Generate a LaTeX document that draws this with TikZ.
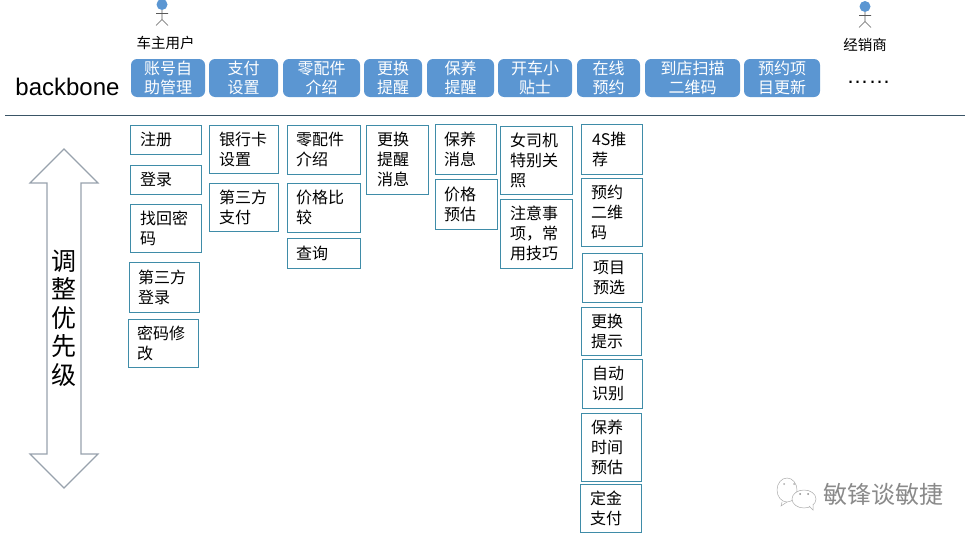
\documentclass[tikz,border=0pt]{standalone}
\usepackage{fontspec}
\setmainfont{Liberation Sans}
\newfontfamily\cjk{Noto Sans CJK SC}
\definecolor{hdr}{HTML}{5B96D2}
\definecolor{bord}{HTML}{3F8CA8}
\definecolor{arr}{HTML}{98A2AD}
\definecolor{rulec}{HTML}{3A5566}
\definecolor{wm}{HTML}{8A8A8A}
\tikzset{
  hdrbox/.style={fill=hdr,rounded corners=6pt,inner sep=0pt,text=white,align=center,font=\cjk\fontsize{16}{19}\selectfont},
  subbox/.style={draw=bord,line width=1pt,inner ysep=0pt,align=left,font=\cjk\fontsize{16}{20}\selectfont},
  actorhead/.style={fill=hdr,circle,inner sep=0pt,minimum size=11pt},
  actorline/.style={draw=black!65,line width=0.6pt},
  lab/.style={inner sep=0pt,font=\cjk\fontsize{14.5}{17}\selectfont},
  bubble/.style={draw=wm!70,line width=0.5pt,fill=white}
}
% name, x1,y1,x2,y2, text
\newcommand{\hb}[6]{\node[hdrbox,minimum width=#4pt-#2pt,minimum height=#5pt-#3pt] (#1) at ({(#2+#4)/2},{(#3+#5)/2}) {#6};}
\newcommand{\sbx}[7][10]{\node[subbox,inner xsep=#1pt,minimum width=#5pt-#3pt,minimum height=#6pt-#4pt,text width=#5pt-#3pt-2*#1pt] (#2) at ({(#3+#5)/2},{(#4+#6)/2}) {#7};}
\newcommand{\actor}[3]{%
  \node[actorhead] (#1) at (#2,#3) {};
  \coordinate (#1h) at (#2,#3+15);
  \coordinate (#1a) at (#2-6,#3+9);
  \coordinate (#1b) at (#2+6,#3+9);
  \coordinate (#1l) at (#2-6,#3+21);
  \coordinate (#1r) at (#2+6,#3+21);
  \draw[actorline] (#1) -- (#1h) (#1a) -- (#1b) (#1l) -- (#1h) -- (#1r);
}
\begin{document}
\begin{tikzpicture}[x=1pt,y=-1pt]
\useasboundingbox (0,0) rectangle (974,538);
\actor{ua}{162}{4.5}
\actor{ub}{865}{6.5}
\node[lab] (lua) at (165.5,43) {车主用户};
\node[lab] (lub) at (865,45) {经销商};
\node[inner sep=0pt,font=\fontsize{24}{28}\selectfont] (bb) at (67.5,87) {backbone};
\hb{h1}{131}{59}{205}{97}{账号自\\助管理}
\hb{h2}{209}{59}{278}{97}{支付\\设置}
\hb{h3}{283}{59}{360}{97}{零配件\\介绍}
\hb{h4}{364}{59}{422}{97}{更换\\提醒}
\hb{h5}{427}{59}{494}{97}{保养\\提醒}
\hb{h6}{498}{59}{572}{97}{开车小\\贴士}
\hb{h7}{577}{59}{640}{97}{在线\\预约}
\hb{h8}{645}{59}{740}{97}{到店扫描\\二维码}
\hb{h9}{744}{59}{820}{97}{预约项\\目更新}
\node[anchor=base,inner sep=0pt,font=\fontsize{22}{24}\selectfont] (dots) at (868.5,83) {……};
\coordinate (la) at (5,115);
\coordinate (lb) at (965,115);
\draw[rulec,line width=0.9pt] (la) -- (lb);
\sbx{a1}{130}{125}{201}{154}{注册}
\sbx{a2}{130}{165}{201}{194}{登录}
\sbx{a3}{130}{204}{201}{252}{找回密\\码}
\sbx[9]{a4}{129}{262}{199}{312}{第三方\\登录}
\sbx[9]{a5}{128}{319}{198}{367}{密码修\\改}
\sbx{b1}{209}{125}{278}{173}{银行卡\\设置}
\sbx{b2}{209}{183}{278}{231}{第三方\\支付}
\sbx[9]{c1}{287}{125}{360}{174}{零配件\\介绍}
\sbx[9]{c2}{287}{183}{360}{232}{价格比\\较}
\sbx[9]{c3}{287}{238}{360}{268}{查询}
\sbx[11]{d1}{366}{125}{428}{194}{更换\\提醒\\消息}
\sbx[9]{e1}{435}{124}{496}{174}{保养\\消息}
\sbx[9]{e2}{435}{179}{497}{229}{价格\\预估}
\sbx{f1}{500}{126}{572}{194}{女司机\\特别关\\照}
\sbx{f2}{500}{199}{572}{268}{注意事\\项，常\\用技巧}
\sbx[11]{g1}{581}{124}{642}{174}{4S推\\荐}
\sbx[10]{g2}{581}{178}{642}{246}{预约\\二维\\码}
\sbx[11]{g3}{582}{253}{642}{302}{项目\\预选}
\sbx[10]{g4}{581}{307}{641}{355}{更换\\提示}
\sbx[10]{g5}{582}{359}{642}{408}{自动\\识别}
\sbx[10]{g6}{581}{413}{641}{481}{保养\\时间\\预估}
\sbx[10]{g7}{580}{484}{641}{532}{定金\\支付}
\draw[arr,line width=1.1pt,fill=white,line join=miter] (64,149) -- (98,183) -- (81,183) -- (81,454) -- (98,454) -- (64,488) -- (30,454) -- (47,454) -- (47,183) -- (30,183) -- cycle;
\node[inner sep=0pt,align=center,font=\cjk\fontsize{25}{28.5}\selectfont] (adj) at (64,318) {调\\整\\优\\先\\级};
\node[inner sep=0pt,text=wm,font=\cjk\fontsize{24}{26}\selectfont] (wmt) at (883,494) {敏锋谈敏捷};
\draw[bubble] (787,490) ellipse (10pt and 12pt);
\draw[bubble] (782,502) -- (781,506) -- (787,502);
\fill[wm!70] (784,484) circle (1pt) (794,484) circle (1pt);
\draw[bubble] (804,499) ellipse (12pt and 9pt);
\draw[bubble] (809,506) -- (813,510) -- (813,504);
\fill[wm] (800,494) circle (1pt) (808,494) circle (1pt);
\end{tikzpicture}
\end{document}
